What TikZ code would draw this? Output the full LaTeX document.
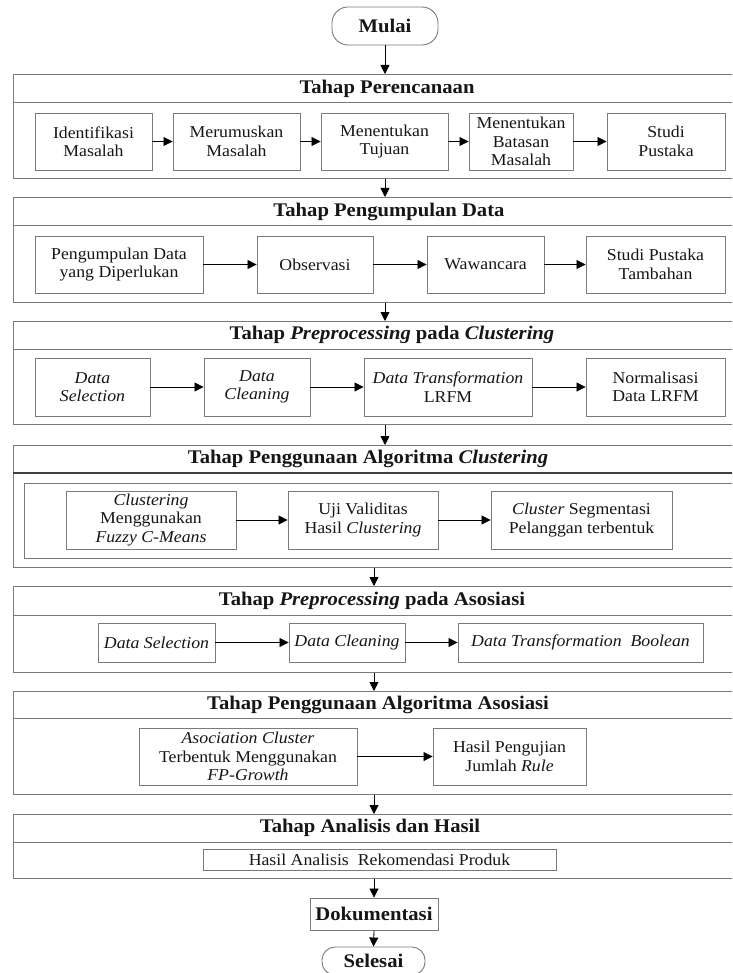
\documentclass[tikz,border=0pt]{standalone}
\usepackage{fontspec}
\setmainfont{Liberation Serif}[FakeStretch=1.07]
\usetikzlibrary{arrows.meta}
\definecolor{ln}{HTML}{7A7A7A}
\definecolor{tx}{HTML}{161616}
\tikzset{
  ibox/.style={draw=ln, line width=0.9pt, align=center, inner sep=1pt, text=tx,
    font=\fontsize{16.6}{18.5}\selectfont},
  obox/.style={draw=ln, line width=1pt, anchor=north west, inner sep=0pt, minimum width=770},
  bandline/.style={draw=ln, line width=1pt},
  ttl/.style={text=tx, inner sep=1pt, font=\fontsize{19.3}{22}\selectfont\bfseries},
  arr/.style={draw=black, line width=0.8pt, -{Triangle[length=9pt,width=9pt]}},
  term/.style={draw=ln, line width=0.9pt, text=tx, inner sep=0pt,
    font=\fontsize{19.3}{22}\selectfont\bfseries}
}
\begin{document}
\begin{tikzpicture}[x=1pt,y=-1pt]
\useasboundingbox (0,0) rectangle (732,973);
\clip (0,0) rectangle (732,973);
\fill[white] (0,0) rectangle (732,973);

% x positions of the vertical flow
\coordinate (ax) at (385,0);
\coordinate (bx) at (374,0);

% start
\node[term, rounded corners=16pt, minimum width=106, minimum height=38] (mulai) at (385,26) {Mulai};

% ---------- stage boxes ----------
\node[obox, minimum height=104] (p1) at (13,74) {};
\draw[bandline] (13,103) -- (790,103);
\node[ttl] (t1) at (387,88.5) {Tahap Perencanaan};

\node[obox, minimum height=105] (p2) at (13,197) {};
\draw[bandline] (13,226) -- (790,226);
\node[ttl] (t2) at (389,211.5) {Tahap Pengumpulan Data};

\node[obox, minimum height=103] (p3) at (13,321) {};
\draw[bandline] (13,349) -- (790,349);
\node[ttl] (t3) at (392,335) {Tahap \textit{Preprocessing} pada \textit{Clustering}};

\node[obox, minimum height=122] (p4) at (13,445) {};
\draw[draw=black!75, line width=1.7pt] (13,473) -- (790,473);
\node[ttl] (t4) at (368,459) {Tahap Penggunaan Algoritma \textit{Clustering}};
\node[obox, minimum height=75] (c4) at (24,483) {};

\node[obox, minimum height=86] (p5) at (13,586) {};
\draw[bandline] (13,615) -- (790,615);
\node[ttl] (t5) at (372,600.5) {Tahap \textit{Preprocessing} pada Asosiasi};

\node[obox, minimum height=103] (p6) at (13,691) {};
\draw[bandline] (13,718) -- (790,718);
\node[ttl] (t6) at (378,704.5) {Tahap Penggunaan Algoritma Asosiasi};

\node[obox, minimum height=64] (p7) at (13,814) {};
\draw[bandline] (13,842) -- (790,842);
\node[ttl] (t7) at (370,828) {Tahap Analisis dan Hasil};

% ---------- stage 1 ----------
\node[ibox, minimum width=117, minimum height=57] (ident) at (93.5,141.5) {Identifikasi\\Masalah};
\node[ibox, minimum width=127, minimum height=57] (merum) at (236.5,141.5) {Merumuskan\\Masalah};
\node[ibox, minimum width=127, minimum height=57] (tujuan) at (384.5,141.5) {Menentukan\\Tujuan};
\node[ibox, minimum width=104, minimum height=57] (batas) at (521,141.5) {Menentukan\\Batasan\\Masalah};
\node[ibox, minimum width=118, minimum height=57] (studi) at (666,141.5) {Studi\\Pustaka};
\draw[arr] (ident) -- (merum);
\draw[arr] (merum) -- (tujuan);
\draw[arr] (tujuan) -- (batas);
\draw[arr] (batas) -- (studi);

% ---------- stage 2 ----------
\node[ibox, minimum width=168, minimum height=57] (kumpul) at (119,264.5) {Pengumpulan Data\\yang Diperlukan};
\node[ibox, minimum width=116, minimum height=57] (obs) at (315,264.5) {Observasi};
\node[ibox, minimum width=117, minimum height=57] (waw) at (485.5,264.5) {Wawancara};
\node[ibox, minimum width=139, minimum height=57] (tamb) at (655.5,264.5) {Studi Pustaka\\Tambahan};
\draw[arr] (kumpul) -- (obs);
\draw[arr] (obs) -- (waw);
\draw[arr] (waw) -- (tamb);

% ---------- stage 3 ----------
\node[ibox, minimum width=115, minimum height=58] (dsel) at (92.5,387) {\textit{Data}\\\textit{Selection}};
\node[ibox, minimum width=106, minimum height=58] (dclean) at (257,387) {\textit{Data}\\\textit{Cleaning}};
\node[ibox, minimum width=168, minimum height=58] (dtrans) at (448,387) {\textit{Data Transformation}\\LRFM};
\node[ibox, minimum width=139, minimum height=58] (norm) at (655.5,387) {Normalisasi\\Data LRFM};
\draw[arr] (dsel) -- (dclean);
\draw[arr] (dclean) -- (dtrans);
\draw[arr] (dtrans) -- (norm);

% ---------- stage 4 ----------
\node[ibox, minimum width=170, minimum height=58] (fcm) at (151,520) {\textit{Clustering}\\Menggunakan\\\textit{Fuzzy C-Means}};
\node[ibox, minimum width=150, minimum height=58] (uji) at (363,520) {Uji Validitas\\Hasil \textit{Clustering}};
\node[ibox, minimum width=181, minimum height=58] (clseg) at (581.5,520) {\textit{Cluster} Segmentasi\\Pelanggan terbentuk};
\draw[arr] (fcm) -- (uji);
\draw[arr] (uji) -- (clseg);

% ---------- stage 5 ----------
\node[ibox, minimum width=117, minimum height=39] (dsel2) at (156.5,642.5) {\textit{Data Selection}};
\node[ibox, minimum width=116, minimum height=39] (dclean2) at (347,642.5) {\textit{Data Cleaning}};
\node[ibox, minimum width=245, minimum height=39] (dbool) at (580.5,642.5) {\textit{Data Transformation~ Boolean}};
\draw[arr] (dsel2) -- (dclean2);
\draw[arr] (dclean2) -- (dbool);

% ---------- stage 6 ----------
\node[ibox, minimum width=218, minimum height=57] (fpg) at (248,756.5) {\textit{Asociation Cluster}\\Terbentuk Menggunakan\\\textit{FP-Growth}};
\node[ibox, minimum width=153, minimum height=57] (hrule) at (509.5,756.5) {Hasil Pengujian\\Jumlah \textit{Rule}};
\draw[arr] (fpg) -- (hrule);

% ---------- stage 7 ----------
\node[ibox, minimum width=353, minimum height=21] (hasil) at (379.5,859.5) {Hasil Analisis~ Rekomendasi Produk};

% ---------- end ----------
\node[ibox, minimum width=128, minimum height=32, font=\fontsize{19.3}{22}\selectfont\bfseries] (dok) at (374,914) {Dokumentasi};
\node[term, rounded corners=13pt, minimum width=103, minimum height=28] (selesai) at (373.5,961) {Selesai};

% ---------- vertical flow ----------
\draw[arr] (mulai.south) -- (mulai.south |- p1.north);
\draw[arr] (p1.south -| ax) -- (p2.north -| ax);
\draw[arr] (p2.south -| ax) -- (p3.north -| ax);
\draw[arr] (p3.south -| ax) -- (p4.north -| ax);
\draw[arr] (p4.south -| bx) -- (p5.north -| bx);
\draw[arr] (p5.south -| bx) -- (p6.north -| bx);
\draw[arr] (p6.south -| bx) -- (p7.north -| bx);
\draw[arr] (p7.south -| bx) -- (dok.north);
\draw[arr] (dok.south) -- (selesai.north);
\end{tikzpicture}
\end{document}
